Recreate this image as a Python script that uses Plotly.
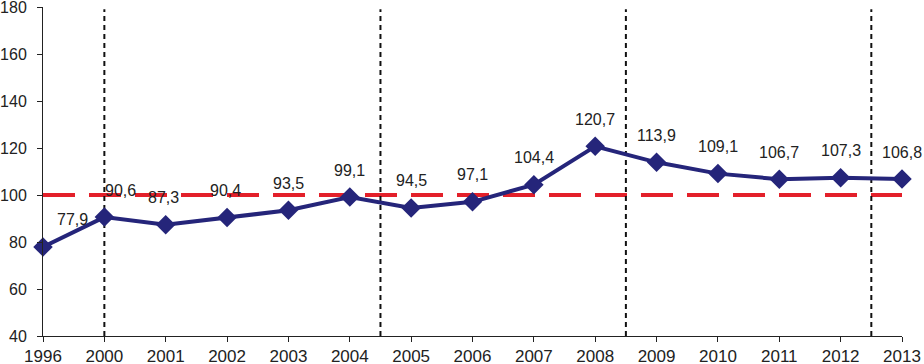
import plotly.graph_objects as go

years = ["1996", "2000", "2001", "2002", "2003", "2004", "2005", "2006",
         "2007", "2008", "2009", "2010", "2011", "2012", "2013"]
values = [77.9, 90.6, 87.3, 90.4, 93.5, 99.1, 94.5, 97.1,
          104.4, 120.7, 113.9, 109.1, 106.7, 107.3, 106.8]
labels = ["77,9", "90,6", "87,3", "90,4", "93,5", "99,1", "94,5", "97,1",
          "104,4", "120,7", "113,9", "109,1", "106,7", "107,3", "106,8"]
reference_level = 100
# period separators, expressed as category positions (between categories)
separators = [1, 5.5, 9.5, 13.5]

label_xshift = [29, 16, -2, -2, 0, 0, 0, 0, 0, 0, 0, 0, 0, 0, 0]

xs = list(range(len(years)))
NAVY = "#25257A"
TXT = "#222222"
FONT = "Liberation Sans, Arial, sans-serif"

fig = go.Figure()
fig.add_trace(go.Scatter(
    x=xs, y=values, mode="lines+markers",
    line=dict(color=NAVY, width=4),
    marker=dict(symbol="diamond", size=15, color=NAVY),
    cliponaxis=False, showlegend=False, hoverinfo="skip",
))

shapes = []
for s in separators:
    shapes.append(dict(type="line", xref="x", yref="y", x0=s, x1=s, y0=40, y1=179,
                       line=dict(color="#111111", width=2, dash="5px,4px"), layer="below"))
shapes.append(dict(type="line", xref="paper", yref="y", x0=0, x1=1,
                   y0=reference_level, y1=reference_level,
                   line=dict(color="#E3202A", width=4, dash="32px,14px"), layer="below"))

annotations = []
for x, v, t, dx in zip(xs, values, labels, label_xshift):
    annotations.append(dict(x=x, y=v, text=t, showarrow=False, xanchor="center",
                            yanchor="middle", yshift=27, xshift=dx,
                            font=dict(size=16, color=TXT, family=FONT)))

fig.update_layout(
    width=924, height=364,
    margin=dict(l=43, r=22, t=7, b=28, autoexpand=False),
    paper_bgcolor="white", plot_bgcolor="white",
    font=dict(family=FONT, size=17, color=TXT),
    shapes=shapes, annotations=annotations,
    xaxis=dict(range=[0, 14], tickmode="array", tickvals=xs, ticktext=years,
               automargin=False, ticklabeloverflow="allow",
               showgrid=False, zeroline=False, showline=True, linecolor="#222222",
               linewidth=1, ticks="outside", ticklen=5, tickcolor="#222222",
               tickfont=dict(size=17, color=TXT)),
    yaxis=dict(range=[40, 180], dtick=20, showgrid=False, zeroline=False,
               automargin=False, ticklabeloverflow="allow", ticklabelstandoff=7,
               showline=True, linecolor="#222222", linewidth=1, ticks="outside",
               ticklen=5, tickcolor="#222222", tickfont=dict(size=16, color=TXT)),
)

fig.write_html("out.html", config={"displayModeBar": False},
               post_script="document.body.style.margin='0';document.body.style.overflow='hidden';")
